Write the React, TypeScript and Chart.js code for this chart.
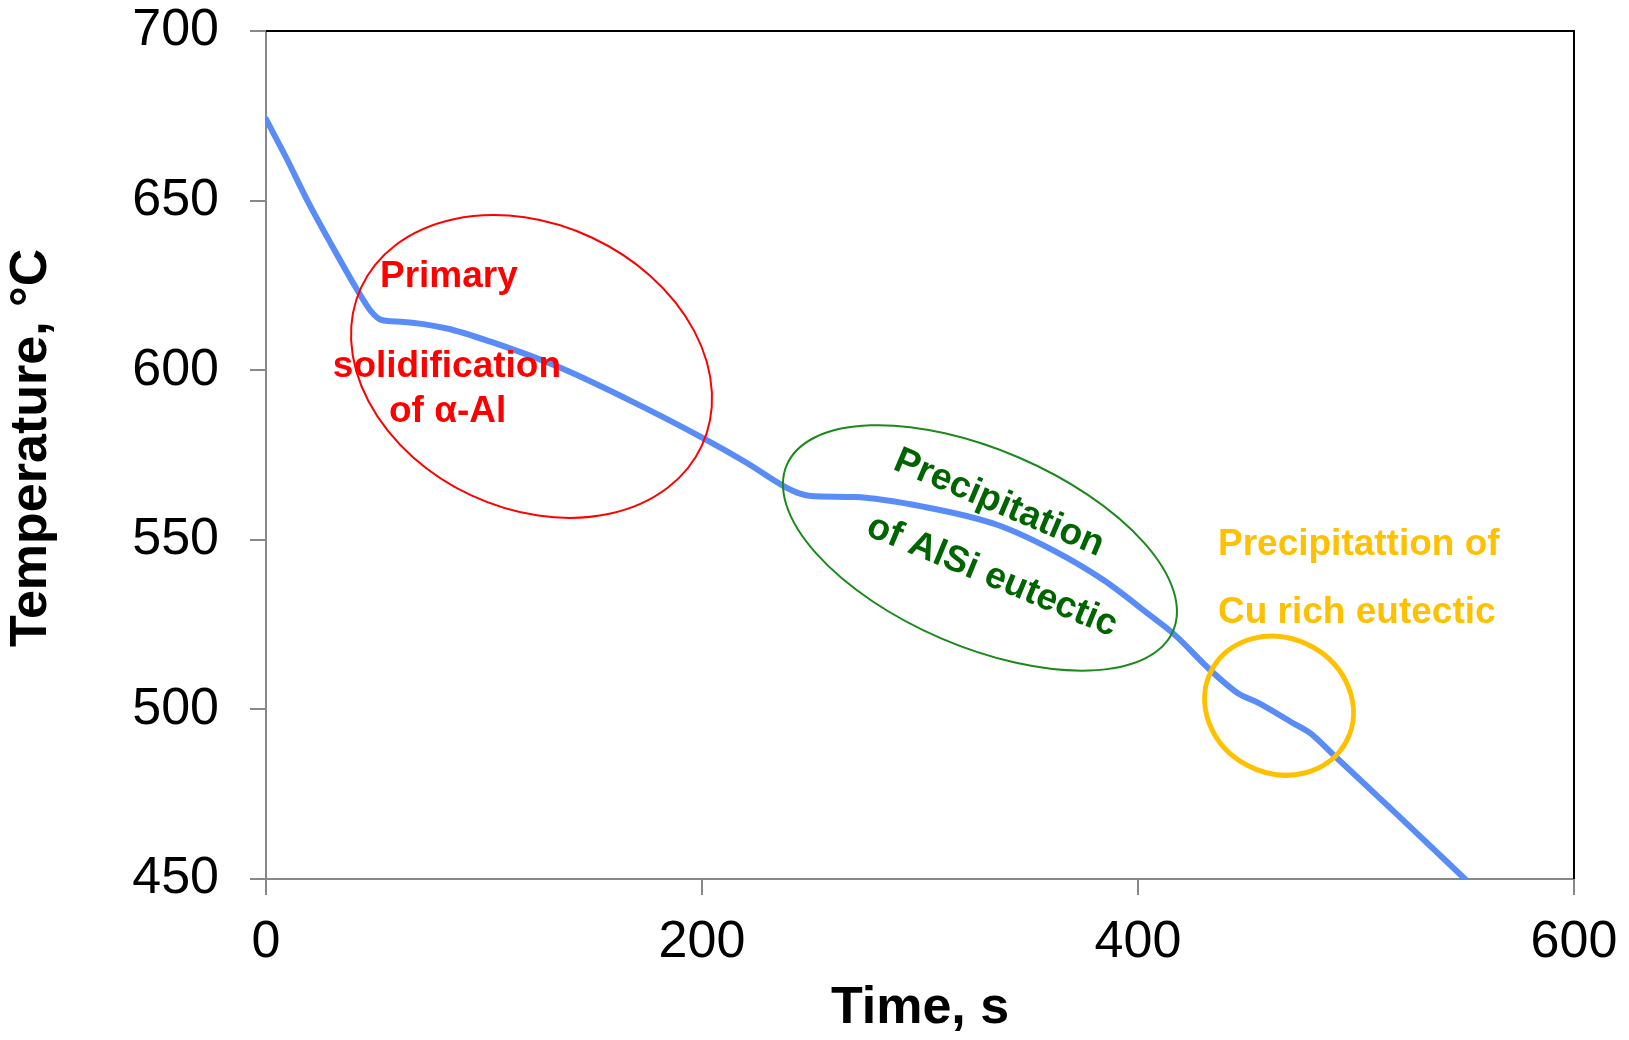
import React, { useEffect, useRef } from "react";
import { Chart, registerables } from "chart.js";

Chart.register(...registerables);

// ---- data ----
const timeS = [0, 9, 19, 30, 42, 48, 53, 62, 83, 103, 134, 165, 199, 221, 237, 245, 250, 270, 302, 335, 362, 384, 405, 417, 433, 446, 455, 471, 479, 490, 520, 550];
const tempC = [674, 663, 650, 637, 623.5, 617.5, 614.8, 614.3, 612.3, 608.4, 601, 591.7, 580.5, 572.5, 566, 563.6, 562.9, 562.6, 559.7, 554.5, 546.6, 538.2, 528, 521.9, 511.7, 504.7, 502, 496, 493, 486.4, 468.3, 450];

const xTicks = [0, 200, 400, 600];
const yTicks = [450, 500, 550, 600, 650, 700];

const xTitle = "Time, s";
const yTitle = "Temperature, °C";

// annotation regions: centre in data units
const regionNames = ["alpha", "alsi", "cu"];
const regionCenterT = [121.8, 327.5, 464.7];
const regionCenterTemp = [601.1, 547.6, 501.1];

// annotation texts
const labelTexts = ["Primary", "solidification", "of α-Al", "Precipitation", "of AlSi eutectic", "Precipitattion of", "Cu rich eutectic"];
const labelT = [83.9, 83.0, 83.3, 336.2, 333.0, 436.7, 436.7];
const labelTemp = [624.6, 598.1, 584.8, 560.8, 539.3, 545.5, 525.6];

// styles for the annotations (not data)
const regionStyle: Record<string, { rx: number; ry: number; rot: number; color: string; width: number }> = {
  alpha: { rx: 187.8, ry: 142.3, rot: 25, color: "#FF0000", width: 2 },
  alsi: { rx: 210.2, ry: 98.4, rot: 23.25, color: "#1A8A1A", width: 2 },
  cu: { rx: 76.2, ry: 67.6, rot: 27.6, color: "#FFC000", width: 5 },
};
const labelStyle = [
  { color: "#FF0000", align: "center", baseline: "alphabetic", rot: 0 },
  { color: "#FF0000", align: "center", baseline: "alphabetic", rot: 0 },
  { color: "#FF0000", align: "center", baseline: "alphabetic", rot: 0 },
  { color: "#006400", align: "center", baseline: "middle", rot: 23 },
  { color: "#006400", align: "center", baseline: "middle", rot: 22.5 },
  { color: "#FFC000", align: "left", baseline: "alphabetic", rot: 0 },
  { color: "#FFC000", align: "left", baseline: "alphabetic", rot: 0 },
];

const FONT = "Arial, 'Liberation Sans', sans-serif";

const annotationPlugin = {
  id: "annotations",
  afterDatasetsDraw(chart: any) {
    const { ctx, chartArea, scales } = chart;
    const xs = scales.x;
    const ys = scales.y;
    ctx.save();
    // frame top/right
    ctx.strokeStyle = "#000";
    ctx.lineWidth = 2;
    ctx.beginPath();
    ctx.moveTo(chartArea.left, chartArea.top);
    ctx.lineTo(chartArea.right, chartArea.top);
    ctx.lineTo(chartArea.right, chartArea.bottom);
    ctx.stroke();

    regionNames.forEach((name, i) => {
      const s = regionStyle[name];
      const cx = xs.getPixelForValue(regionCenterT[i]);
      const cy = ys.getPixelForValue(regionCenterTemp[i]);
      ctx.beginPath();
      ctx.ellipse(cx, cy, s.rx, s.ry, (s.rot * Math.PI) / 180, 0, Math.PI * 2);
      ctx.strokeStyle = s.color;
      ctx.lineWidth = s.width;
      ctx.stroke();
    });

    labelTexts.forEach((txt, i) => {
      const st = labelStyle[i];
      const px = xs.getPixelForValue(labelT[i]);
      const py = ys.getPixelForValue(labelTemp[i]);
      ctx.save();
      ctx.translate(px, py);
      ctx.rotate((st.rot * Math.PI) / 180);
      ctx.font = `bold 37px ${FONT}`;
      ctx.fillStyle = st.color;
      ctx.textAlign = st.align as CanvasTextAlign;
      ctx.textBaseline = st.baseline as CanvasTextBaseline;
      ctx.fillText(txt, 0, 0);
      ctx.restore();
    });
    ctx.restore();
  },
};

export default function App() {
  const ref = useRef<HTMLCanvasElement | null>(null);
  useEffect(() => {
    if (!ref.current) return;
    const chart = new Chart(ref.current, {
      type: "scatter",
      data: {
        datasets: [
          {
            data: timeS.map((t, i) => ({ x: t, y: tempC[i] })),
            showLine: true,
            borderColor: "#5A8CF8",
            backgroundColor: "#5A8CF8",
            borderWidth: 6,
            pointRadius: 0,
            cubicInterpolationMode: "monotone",
            borderCapStyle: "round",
            borderJoinStyle: "round",
          } as any,
        ],
      },
      options: {
        responsive: false,
        animation: false,
        events: [],
        layout: { padding: { top: 31, right: 55, bottom: 0, left: 0 } },
        plugins: { legend: { display: false }, tooltip: { enabled: false } },
        scales: {
          x: {
            type: "linear",
            min: 0,
            max: 600,
            afterBuildTicks: (s: any) => {
              s.ticks = xTicks.map((v) => ({ value: v }));
            },
            afterFit: (s: any) => {
              s.height = 161;
              s.paddingLeft = 0;
              s.paddingRight = 0;
            },
            ticks: { color: "#000", font: { family: FONT, size: 52 }, padding: 16, maxRotation: 0, autoSkip: false },
            grid: { drawOnChartArea: false, drawTicks: true, tickLength: 16, color: "#888", lineWidth: 2 },
            border: { color: "#888", width: 2 },
            title: { display: true, text: xTitle, color: "#000", font: { family: FONT, size: 52, weight: "bold" }, padding: 0 },
          },
          y: {
            type: "linear",
            min: 450,
            max: 700,
            afterBuildTicks: (s: any) => {
              s.ticks = yTicks.map((v) => ({ value: v }));
            },
            afterFit: (s: any) => {
              s.width = 266;
              s.paddingTop = 0;
              s.paddingBottom = 0;
            },
            ticks: { color: "#000", font: { family: FONT, size: 52 }, padding: 31, autoSkip: false },
            grid: { drawOnChartArea: false, drawTicks: true, tickLength: 16, color: "#888", lineWidth: 2 },
            border: { color: "#888", width: 2 },
            title: { display: true, text: " " + yTitle, color: "#000", font: { family: FONT, size: 52, weight: "bold" }, padding: 0 },
          },
        },
      },
      plugins: [annotationPlugin],
    });
    return () => chart.destroy();
  }, []);
  return (
    <div style={{ position: "absolute", left: 0, top: 0, width: 1629, height: 1040, background: "#fff" }}>
      <canvas ref={ref} width={1629} height={1040} style={{ display: "block" }} />
    </div>
  );
}
